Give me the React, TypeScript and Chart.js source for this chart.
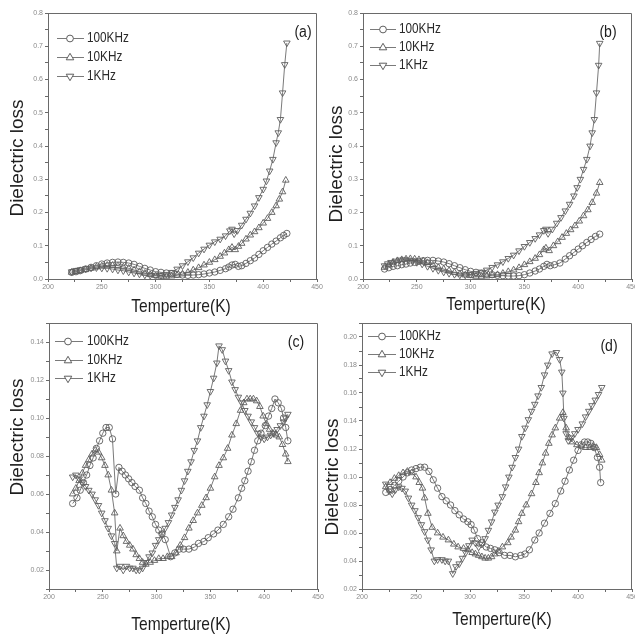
import React, { useEffect, useRef } from 'react';
import { Chart, registerables } from 'chart.js';

Chart.register(...registerables);

// ---------- labels ----------
const SERIES_LABELS = ['100KHz', '10KHz', '1KHz'];
const X_TITLE = 'Temperture(K)';
const Y_TITLE = 'Dielectric loss';
const PANEL_TAGS = ['(a)', '(b)', '(c)', '(d)'];

// ---------- panel (a) ----------
const aT100 = [222,226,230,235,240,245,250,255,260,265,270,275,280,285,290,295,300,305,310,315,320,325,330,335,340,345,350,355,360,365,368,371,374,377,380,384,388,392,396,400,404,408,412,416,419,422];
const aV100 = [0.020,0.022,0.025,0.030,0.035,0.040,0.045,0.048,0.050,0.051,0.050,0.048,0.044,0.038,0.032,0.027,0.022,0.020,0.018,0.016,0.014,0.012,0.011,0.012,0.013,0.015,0.018,0.021,0.026,0.031,0.036,0.042,0.044,0.038,0.040,0.047,0.055,0.063,0.074,0.085,0.095,0.105,0.114,0.124,0.131,0.137];
const aT10 = [222,226,230,235,240,245,250,255,260,265,270,275,280,285,290,295,300,305,310,315,320,325,330,335,340,345,350,355,360,364,368,371,374,377,380,384,388,392,396,400,404,408,412,415,418,421];
const aV10 = [0.020,0.022,0.025,0.028,0.032,0.036,0.039,0.041,0.041,0.040,0.036,0.032,0.027,0.022,0.017,0.013,0.010,0.008,0.008,0.009,0.011,0.015,0.020,0.027,0.034,0.042,0.050,0.058,0.068,0.078,0.088,0.095,0.088,0.098,0.107,0.120,0.132,0.142,0.154,0.168,0.182,0.200,0.220,0.240,0.262,0.297];
const aT1 = [222,226,230,235,240,245,250,255,260,265,270,275,280,285,290,295,300,305,310,315,320,325,330,335,340,345,350,355,360,365,369,371,373,376,380,384,388,392,396,400,403,406,409,412,414,416,418,420,422];
const aV1 = [0.022,0.026,0.028,0.031,0.033,0.034,0.033,0.032,0.030,0.027,0.025,0.021,0.018,0.015,0.012,0.011,0.010,0.011,0.014,0.020,0.030,0.040,0.052,0.064,0.078,0.090,0.102,0.112,0.120,0.130,0.145,0.150,0.136,0.146,0.162,0.180,0.198,0.220,0.245,0.270,0.295,0.325,0.360,0.410,0.440,0.480,0.560,0.645,0.710];

// ---------- panel (b) ----------
const bT100 = [220,224,228,232,236,240,244,248,252,256,260,265,270,275,280,285,290,295,300,305,310,315,320,325,330,335,340,345,350,355,360,364,368,371,374,378,383,388,392,396,400,404,408,412,416,420];
const bV100 = [0.030,0.034,0.038,0.040,0.043,0.045,0.048,0.050,0.053,0.055,0.056,0.056,0.054,0.051,0.046,0.040,0.034,0.028,0.023,0.020,0.017,0.015,0.013,0.011,0.010,0.009,0.009,0.010,0.013,0.018,0.024,0.030,0.038,0.044,0.040,0.043,0.048,0.060,0.070,0.080,0.090,0.100,0.110,0.119,0.128,0.135];
const bT10 = [220,224,228,232,236,240,244,248,252,256,260,265,270,275,280,285,290,295,300,305,310,315,320,325,330,335,340,345,350,355,360,364,368,370,373,377,381,385,389,393,397,401,405,409,413,417,420];
const bV10 = [0.035,0.043,0.050,0.055,0.058,0.060,0.061,0.060,0.058,0.054,0.049,0.042,0.035,0.030,0.025,0.020,0.015,0.012,0.010,0.008,0.008,0.009,0.011,0.013,0.017,0.022,0.027,0.034,0.043,0.052,0.062,0.073,0.088,0.093,0.085,0.100,0.112,0.125,0.137,0.148,0.160,0.174,0.190,0.208,0.230,0.258,0.290];
const bT1 = [220,223,226,230,234,238,242,246,250,255,260,265,270,275,280,285,290,295,300,305,310,315,320,325,330,335,340,345,350,355,360,364,368,370,372,376,380,384,388,392,396,399,402,405,408,411,413,415,417,419,420];
const bV1 = [0.040,0.046,0.050,0.054,0.057,0.058,0.057,0.055,0.050,0.045,0.038,0.032,0.026,0.021,0.017,0.014,0.012,0.012,0.014,0.017,0.021,0.027,0.035,0.043,0.052,0.062,0.072,0.085,0.098,0.110,0.122,0.133,0.146,0.150,0.137,0.150,0.168,0.185,0.205,0.225,0.250,0.275,0.300,0.330,0.360,0.400,0.440,0.480,0.560,0.643,0.709];

// ---------- panel (c) ----------
const cT100 = [222,226,229,232,235,238,241,244,247,250,253,256,259,262,265,268,271,274,277,280,284,287,290,293,296,299,302,305,308,313,317,321,325,330,335,339,344,348,353,357,362,367,371,376,379,382,385,388,391,394,397,401,404,407,410,413,416,418,420,422];
const cV100 = [0.055,0.058,0.062,0.066,0.070,0.075,0.079,0.084,0.088,0.092,0.095,0.095,0.089,0.060,0.074,0.072,0.070,0.068,0.066,0.064,0.062,0.058,0.055,0.051,0.048,0.044,0.041,0.039,0.036,0.027,0.029,0.031,0.031,0.031,0.032,0.034,0.035,0.037,0.039,0.041,0.044,0.048,0.052,0.058,0.063,0.067,0.072,0.077,0.083,0.088,0.092,0.096,0.101,0.105,0.110,0.108,0.105,0.100,0.095,0.088];
const cT10 = [222,225,228,231,234,237,240,243,246,249,252,255,258,261,263,266,269,272,275,278,281,284,287,290,294,298,302,306,310,314,318,322,326,330,334,338,342,346,350,354,358,362,366,370,374,378,381,384,387,390,393,396,399,402,405,408,411,414,417,420,422];
const cV10 = [0.060,0.063,0.067,0.071,0.075,0.078,0.081,0.083,0.082,0.079,0.075,0.070,0.062,0.050,0.030,0.042,0.038,0.035,0.033,0.031,0.028,0.026,0.024,0.023,0.024,0.025,0.026,0.026,0.027,0.027,0.029,0.033,0.037,0.042,0.046,0.050,0.054,0.058,0.063,0.069,0.075,0.079,0.084,0.091,0.097,0.104,0.108,0.110,0.110,0.110,0.109,0.106,0.101,0.097,0.094,0.092,0.091,0.090,0.086,0.081,0.077];
const cT1 = [222,225,228,231,234,237,240,243,246,249,252,255,258,261,263,266,269,272,275,278,281,284,287,290,293,296,299,302,305,308,311,314,317,320,323,326,329,332,335,338,341,344,347,350,353,356,358,361,364,367,370,373,376,379,382,385,388,391,394,397,400,403,406,409,412,415,418,420,422];
const cV1 = [0.069,0.070,0.068,0.066,0.064,0.062,0.060,0.057,0.054,0.050,0.046,0.042,0.038,0.034,0.021,0.022,0.020,0.022,0.021,0.021,0.020,0.020,0.021,0.024,0.027,0.029,0.033,0.036,0.039,0.042,0.045,0.049,0.053,0.057,0.062,0.067,0.072,0.077,0.083,0.088,0.095,0.101,0.107,0.114,0.121,0.129,0.138,0.136,0.130,0.125,0.119,0.115,0.111,0.108,0.104,0.101,0.098,0.095,0.092,0.090,0.089,0.090,0.091,0.092,0.094,0.096,0.098,0.100,0.102];

// ---------- panel (d) ----------
const dT100 = [222,226,230,234,238,242,246,250,254,258,262,266,270,274,278,282,286,290,294,298,301,304,307,311,315,319,323,327,332,337,342,347,351,355,360,364,369,374,379,384,388,392,396,400,403,406,409,412,415,418,420,421];
const dV100 = [0.089,0.091,0.094,0.097,0.100,0.103,0.105,0.106,0.107,0.107,0.104,0.098,0.092,0.086,0.083,0.080,0.076,0.073,0.070,0.068,0.066,0.062,0.056,0.053,0.050,0.049,0.048,0.046,0.044,0.044,0.043,0.044,0.045,0.048,0.055,0.060,0.067,0.074,0.081,0.090,0.097,0.105,0.112,0.119,0.123,0.125,0.125,0.124,0.121,0.114,0.107,0.096];
const dT10 = [222,226,230,234,238,242,246,250,253,256,258,261,265,270,275,280,285,289,294,298,302,305,308,311,314,317,320,323,326,330,335,338,342,345,348,352,357,361,364,367,370,373,376,379,383,386,389,392,395,399,403,407,411,414,417,420,422];
const dV10 = [0.093,0.096,0.099,0.101,0.103,0.104,0.103,0.100,0.096,0.092,0.085,0.074,0.064,0.060,0.057,0.055,0.052,0.050,0.049,0.048,0.046,0.045,0.044,0.043,0.042,0.042,0.043,0.045,0.047,0.050,0.053,0.057,0.062,0.068,0.074,0.080,0.088,0.096,0.103,0.110,0.117,0.124,0.130,0.135,0.142,0.146,0.135,0.128,0.125,0.123,0.122,0.121,0.121,0.122,0.121,0.116,0.112];
const dT1 = [222,225,228,231,234,237,240,243,246,249,252,255,258,261,264,267,270,274,277,280,284,287,290,293,296,299,302,305,308,311,314,317,320,323,326,330,333,336,339,342,345,348,351,354,357,360,363,366,369,372,376,380,383,385,386,387,389,391,394,397,400,404,407,410,413,416,419,422];
const dV1 = [0.095,0.090,0.088,0.091,0.093,0.092,0.090,0.085,0.080,0.076,0.071,0.066,0.061,0.055,0.048,0.040,0.041,0.041,0.040,0.040,0.031,0.036,0.038,0.042,0.046,0.051,0.055,0.053,0.050,0.052,0.056,0.062,0.068,0.075,0.080,0.086,0.093,0.100,0.107,0.114,0.120,0.129,0.135,0.141,0.147,0.152,0.158,0.164,0.173,0.180,0.188,0.189,0.184,0.175,0.160,0.142,0.131,0.126,0.128,0.131,0.134,0.138,0.143,0.147,0.151,0.155,0.159,0.164];

// ---------- axis ranges / ticks ----------
const X_MIN = 200;
const X_MAX = 450;
const X_MINOR_STEP = 25;
const X_MAJOR_STEP = 50;
const Y_RANGES_AB = [0, 0.8];
const Y_RANGE_C = [0.01, 0.15];
const Y_RANGE_D = [0.02, 0.21];

// ---------- styling ----------
const LINE_COLOR = '#7a7a7a';
const MARKER_COLOR = '#5e5e5e';
const AXIS_COLOR = '#6a6a6a';
const TICK_LABEL_COLOR = '#8a8a8a';
const TEXT_COLOR = '#1e1e1e';
const FONT = '"Liberation Sans", Arial, sans-serif';

type Pt = { x: number; y: number };
const mk = (t: number[], v: number[]): Pt[] => t.map((x, i) => ({ x, y: v[i] }));

type Box = { left: number; top: number; width: number; height: number };
type Plot = { left: number; top: number; right: number; bottom: number };
type PanelCfg = {
  box: Box;
  plot: Plot;
  yRange: number[];
  yMinor: number;
  yMajor: number;
  yDecimals: number;
  series: Pt[][];
  tag: string;
  tagPos: [number, number];
  legendRows: number[];
  legendLine: [number, number, number, number]; // start, marker, end, text
  yTitlePos: [number, number];
  xTitlePos: [number, number];
};

function drawText(
  ctx: CanvasRenderingContext2D,
  text: string,
  x: number,
  y: number,
  size: number,
  scaleX: number,
  rotate: boolean,
  align: CanvasTextAlign,
  color: string
) {
  ctx.save();
  ctx.translate(x, y);
  if (rotate) ctx.rotate(-Math.PI / 2);
  ctx.scale(scaleX, 1);
  ctx.font = `${size}px ${FONT}`;
  ctx.fillStyle = color;
  ctx.textAlign = align;
  ctx.textBaseline = 'middle';
  ctx.fillText(text, 0, 0);
  ctx.restore();
}

function drawMarker(ctx: CanvasRenderingContext2D, kind: number, x: number, y: number) {
  ctx.save();
  ctx.strokeStyle = MARKER_COLOR;
  ctx.fillStyle = '#ffffff';
  ctx.lineWidth = 1;
  ctx.beginPath();
  if (kind === 0) {
    ctx.arc(x, y, 3.4, 0, Math.PI * 2);
  } else {
    const r = 4.2;
    const dir = kind === 1 ? -1 : 1;
    ctx.moveTo(x, y + dir * r);
    ctx.lineTo(x - r * 0.9, y - dir * r * 0.55);
    ctx.lineTo(x + r * 0.9, y - dir * r * 0.55);
    ctx.closePath();
  }
  ctx.fill();
  ctx.stroke();
  ctx.restore();
}

function Panel({ cfg }: { cfg: PanelCfg }) {
  const ref = useRef<HTMLCanvasElement | null>(null);

  useEffect(() => {
    if (!ref.current) return;
    const { box, plot } = cfg;
    const ox = box.left;
    const oy = box.top;

    const decor = {
      id: 'decor',
      afterDraw(chart: any) {
        const ctx: CanvasRenderingContext2D = chart.ctx;
        const a = chart.chartArea;
        ctx.save();
        ctx.strokeStyle = AXIS_COLOR;
        ctx.lineWidth = 1;
        ctx.beginPath();
        ctx.moveTo(a.left, a.top + 0.5);
        ctx.lineTo(a.right - 0.5, a.top + 0.5);
        ctx.lineTo(a.right - 0.5, a.bottom);
        ctx.stroke();
        ctx.restore();

        // legend
        const [ls, lm, le, lt] = cfg.legendLine;
        cfg.legendRows.forEach((ry, i) => {
          const y = ry - oy;
          ctx.save();
          ctx.strokeStyle = LINE_COLOR;
          ctx.lineWidth = 1;
          ctx.beginPath();
          ctx.moveTo(ls - ox, y + 0.5);
          ctx.lineTo(le - ox, y + 0.5);
          ctx.stroke();
          ctx.restore();
          drawMarker(ctx, i, lm - ox, y + 0.5);
          drawText(ctx, SERIES_LABELS[i], lt - ox, y, 14, 0.84, false, 'left', '#2a2a2a');
        });

        drawText(ctx, cfg.tag, cfg.tagPos[0] - ox, cfg.tagPos[1] - oy, 16, 0.88, false, 'center', TEXT_COLOR);
        drawText(ctx, Y_TITLE, cfg.yTitlePos[0] - ox, cfg.yTitlePos[1] - oy, 19, 1.0, true, 'center', TEXT_COLOR);
        drawText(ctx, X_TITLE, cfg.xTitlePos[0] - ox, cfg.xTitlePos[1] - oy, 19, 0.82, false, 'center', TEXT_COLOR);
      },
    };

    const styles = [
      { pointStyle: 'circle', rotation: 0, radius: 3.2 },
      { pointStyle: 'triangle', rotation: 0, radius: 3.8 },
      { pointStyle: 'triangle', rotation: 180, radius: 3.8 },
    ];

    const chart = new Chart(ref.current, {
      type: 'scatter',
      data: {
        datasets: cfg.series.map((pts, i) => ({
          label: SERIES_LABELS[i],
          data: pts,
          showLine: true,
          borderColor: LINE_COLOR,
          borderWidth: 1,
          tension: 0,
          pointStyle: styles[i].pointStyle as any,
          rotation: styles[i].rotation,
          pointRadius: styles[i].radius,
          pointBorderWidth: 0.9,
          pointBorderColor: MARKER_COLOR,
          pointBackgroundColor: 'rgba(255,255,255,0)',
        })),
      },
      options: {
        responsive: false,
        animation: false,
        devicePixelRatio: 1,
        layout: {
          padding: {
            left: 0,
            top: plot.top - box.top,
            right: box.left + box.width - plot.right,
            bottom: 0,
          },
        },
        plugins: {
          legend: { display: false },
          tooltip: { enabled: false },
        },
        scales: {
          x: {
            type: 'linear',
            min: X_MIN,
            max: X_MAX,
            afterFit: (s: any) => {
              s.height = box.top + box.height - plot.bottom;
            },
            ticks: {
              stepSize: X_MINOR_STEP,
              autoSkip: false,
              maxRotation: 0,
              padding: 1,
              color: TICK_LABEL_COLOR,
              font: { size: 7, family: FONT },
              callback: (v: any) => (Math.round(Number(v)) % X_MAJOR_STEP === 0 ? String(v) : ''),
            },
            grid: { drawOnChartArea: false, drawTicks: true, tickLength: 3, color: AXIS_COLOR },
            border: { display: true, color: AXIS_COLOR, width: 1 },
          },
          y: {
            type: 'linear',
            min: cfg.yRange[0],
            max: cfg.yRange[1],
            afterFit: (s: any) => {
              s.width = plot.left - box.left;
            },
            ticks: {
              stepSize: cfg.yMinor,
              autoSkip: false,
              padding: 2,
              color: TICK_LABEL_COLOR,
              font: { size: 7, family: FONT },
              callback: (v: any) => {
                const n = Math.round(Number(v) / cfg.yMinor);
                const m = Math.round(cfg.yMajor / cfg.yMinor);
                return n % m === 0 ? Number(v).toFixed(cfg.yDecimals) : '';
              },
            },
            grid: { drawOnChartArea: false, drawTicks: true, tickLength: 3, color: AXIS_COLOR },
            border: { display: true, color: AXIS_COLOR, width: 1 },
          },
        },
      } as any,
      plugins: [decor],
    });
    return () => chart.destroy();
  }, [cfg]);

  return (
    <canvas
      ref={ref}
      width={cfg.box.width}
      height={cfg.box.height}
      style={{
        position: 'absolute',
        left: cfg.box.left,
        top: cfg.box.top,
        width: cfg.box.width,
        height: cfg.box.height,
      }}
    />
  );
}

const PANELS: PanelCfg[] = [
  {
    box: { left: 0, top: 0, width: 340, height: 320 },
    plot: { left: 48, top: 13, right: 317, bottom: 279 },
    yRange: Y_RANGES_AB, yMinor: 0.05, yMajor: 0.1, yDecimals: 1,
    series: [mk(aT100, aV100), mk(aT10, aV10), mk(aT1, aV1)],
    tag: PANEL_TAGS[0], tagPos: [303, 33],
    legendRows: [38, 57, 76], legendLine: [57, 70, 84, 87],
    yTitlePos: [18, 158], xTitlePos: [181, 307],
  },
  {
    box: { left: 315, top: 0, width: 340, height: 320 },
    plot: { left: 363, top: 13, right: 632, bottom: 279 },
    yRange: Y_RANGES_AB, yMinor: 0.05, yMajor: 0.1, yDecimals: 1,
    series: [mk(bT100, bV100), mk(bT10, bV10), mk(bT1, bV1)],
    tag: PANEL_TAGS[1], tagPos: [608, 33],
    legendRows: [29, 47, 65], legendLine: [370, 383, 396, 399],
    yTitlePos: [337, 164], xTitlePos: [496, 305],
  },
  {
    box: { left: 0, top: 310, width: 340, height: 327 },
    plot: { left: 49, top: 323, right: 318, bottom: 589 },
    yRange: Y_RANGE_C, yMinor: 0.01, yMajor: 0.02, yDecimals: 2,
    series: [mk(cT100, cV100), mk(cT10, cV10), mk(cT1, cV1)],
    tag: PANEL_TAGS[2], tagPos: [296, 343],
    legendRows: [341, 360, 378], legendLine: [55, 68, 83, 87],
    yTitlePos: [18, 437], xTitlePos: [181, 625],
  },
  {
    box: { left: 315, top: 310, width: 340, height: 327 },
    plot: { left: 362, top: 323, right: 632, bottom: 589 },
    yRange: Y_RANGE_D, yMinor: 0.01, yMajor: 0.02, yDecimals: 2,
    series: [mk(dT100, dV100), mk(dT10, dV10), mk(dT1, dV1)],
    tag: PANEL_TAGS[3], tagPos: [609, 347],
    legendRows: [336, 354, 372], legendLine: [368, 382, 396, 399],
    yTitlePos: [333, 477], xTitlePos: [502, 620],
  },
];

export default function App() {
  return (
    <div
      style={{
        position: 'fixed',
        left: 0,
        top: 0,
        width: 635,
        height: 637,
        overflow: 'hidden',
        background: '#ffffff',
      }}
    >
      {PANELS.map((p, i) => (
        <Panel key={i} cfg={p} />
      ))}
    </div>
  );
}
